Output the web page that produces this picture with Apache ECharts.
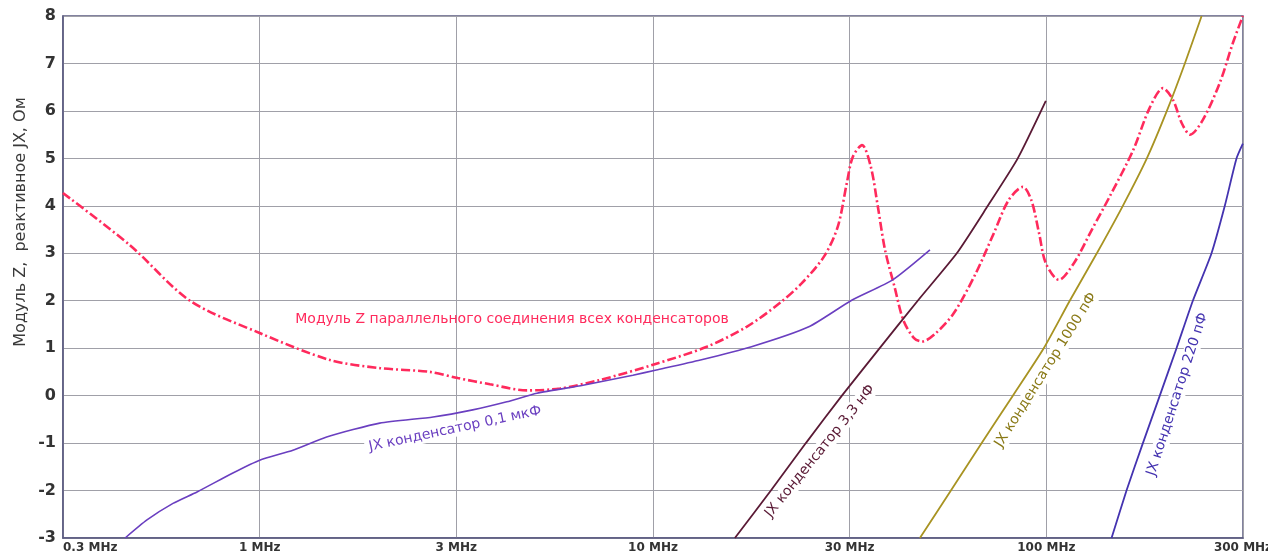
<!DOCTYPE html>
<html>
<head>
<meta charset="utf-8">
<script src="https://cdn.jsdelivr.net/npm/echarts@6/dist/echarts.min.js"></script>
<style>
  html, body { margin: 0; padding: 0; background: #fff; }
  #chart { width: 1268px; height: 558px; }
</style>
</head>
<body>
<div id="chart"></div>
<script>
// tick labels on the half-decade log axis
const xTickLabels = ['0.3 MHz', '1 MHz', '3 MHz', '10 MHz', '30 MHz', '100 MHz', '300 MHz']

// [frequency MHz, ohm]
const zParallel = [
  [0.316, 4.27], [0.468, 3.17], [0.665, 2.0], [1.0, 1.32], [1.51, 0.75], [2.02, 0.58],
  [2.71, 0.50], [3.19, 0.37], [3.85, 0.24], [4.78, 0.11], [5.8, 0.15], [7.33, 0.33],
  [10.0, 0.65], [13.7, 1.03], [17.3, 1.45], [21.0, 1.95], [23.9, 2.37], [27.2, 2.93],
  [29.5, 3.56], [31.1, 4.48], [32.2, 5.03], [34.0, 5.28], [35.8, 4.82], [37.3, 3.98],
  [38.9, 3.07], [41.1, 2.30], [43.3, 1.59], [46.1, 1.21], [48.3, 1.14], [52.4, 1.32],
  [58.2, 1.74], [66.2, 2.58], [73.6, 3.43], [80.2, 4.12], [87.2, 4.40], [91.6, 4.12],
  [95.8, 3.43], [99.7, 2.79], [107.6, 2.44], [117.5, 2.79], [130.6, 3.5], [145, 4.2],
  [166, 5.16], [183, 6.06], [198, 6.48], [210, 6.23], [221, 5.74], [232, 5.50],
  [250, 5.81], [276, 6.59], [298, 7.43], [316, 8.0]
]
const jx100n = [
  [0.455, -3.0], [0.517, -2.62], [0.602, -2.27], [0.693, -2.03], [0.855, -1.63], [1.0, -1.36],
  [1.215, -1.15], [1.48, -0.87], [2.02, -0.58], [2.76, -0.45], [3.48, -0.30], [4.25, -0.13],
  [5.07, 0.05], [6.64, 0.22], [8.89, 0.43], [10.2, 0.54], [13.2, 0.75], [17.8, 1.03],
  [24.9, 1.45], [32.0, 2.01], [40.7, 2.44], [50.6, 3.07]
]
const jx3n3 = [
  [16.15, -3.0], [19.94, -2.0], [24.47, -1.0], [30.22, 0.0], [37.7, 1.0], [47.1, 2.0],
  [59.2, 3.0], [71.0, 4.0], [84.6, 5.0], [99.7, 6.21]
]
const jx1000p = [
  [47.7, -3.0], [57.2, -2.0], [68.5, -1.0], [82.2, 0.0], [98.5, 1.0], [114.7, 2.0],
  [134.4, 3.0], [156.5, 4.0], [180.1, 5.0], [202.5, 6.0], [225, 7.0], [248.2, 8.0]
]
const jx220p = [
  [146.5, -3.0], [159.9, -2.0], [176, -1.0], [194.3, 0.0], [214.3, 1.0], [235.8, 2.0],
  [263, 3.0], [284.3, 4.0], [304.5, 5.0], [316, 5.31]
]

const toLog = (arr) => arr.map(p => [Math.log10(p[0]), p[1]])

const fontFam = '"DejaVu Sans", Verdana, sans-serif'
const chart = echarts.init(document.getElementById('chart'))

const lineSeries = (name, data, color, width, type, smooth) => ({
  name: name,
  type: 'line',
  data: toLog(data),
  showSymbol: false,
  smooth: smooth,
  clip: true,
  lineStyle: { color: color, width: width, type: type },
  z: 3
})

chart.setOption({
  animation: false,
  grid: {
    left: 63, right: 25, top: 16, bottom: 20,
    outerBoundsMode: 'none',
    show: true, borderColor: '#5a5a80', borderWidth: 1.5
  },
  xAxis: {
    type: 'value',
    min: -0.5,
    max: 2.5,
    interval: 0.5,
    axisLine: { show: true, onZero: false, lineStyle: { color: '#5a5a80', width: 1.5 } },
    axisTick: { show: false },
    splitLine: { lineStyle: { color: '#a0a0a8', width: 1 } },
    axisLabel: {
      color: '#333',
      fontFamily: fontFam,
      fontSize: 12,
      fontWeight: 'bold',
      margin: 4,
      alignMinLabel: 'left',
      formatter: (v) => xTickLabels[Math.round((v + 0.5) * 2)]
    }
  },
  yAxis: {
    type: 'value',
    min: -3,
    max: 8,
    interval: 1,
    axisLine: { show: true, onZero: false, lineStyle: { color: '#5a5a80', width: 1.5 } },
    axisTick: { show: false },
    splitLine: { lineStyle: { color: '#a0a0a8', width: 1 } },
    axisLabel: { color: '#333', fontFamily: fontFam, fontSize: 16, fontWeight: 'bold', margin: 7 }
  },
  series: [
    lineSeries('Z', zParallel, '#ff2a5c', 2.6, [9, 3, 2, 3], 0.3),
    lineSeries('0,1 мкФ', jx100n, '#6a3fc0', 1.6, 'solid', 0.2),
    lineSeries('3,3 нФ', jx3n3, '#5a1a35', 1.8, 'solid', 0.2),
    lineSeries('1000 пФ', jx1000p, '#a89322', 1.8, 'solid', 0.2),
    lineSeries('220 пФ', jx220p, '#4433b0', 1.8, 'solid', 0.2)
  ]
})

// curve labels, anchored to data coordinates
const labels = [
  { text: 'Модуль Z параллельного соединения всех конденсаторов', f: 4.38, v: 1.61, rot: 0, color: '#ff2a5c', bg: 'transparent' },
  { text: 'JX конденсатор 0,1 мкФ', f: 3.14, v: -0.70, rot: 12, color: '#6a3fc0', bg: '#fff' },
  { text: 'JX конденсатор 3,3 нФ', f: 26.6, v: -1.17, rot: 51, color: '#5a1a35', bg: '#fff' },
  { text: 'JX конденсатор 1000 пФ', f: 99.7, v: 0.54, rot: 58, color: '#8a7a18', bg: '#fff' },
  { text: 'JX конденсатор 220 пФ', f: 215.4, v: 0.03, rot: 72, color: '#4433b0', bg: '#fff' }
]
const graphics = labels.map(l => {
  const p = chart.convertToPixel({ gridIndex: 0 }, [Math.log10(l.f), l.v])
  return {
    type: 'text',
    x: p[0],
    y: p[1],
    rotation: l.rot * Math.PI / 180,
    z: 10,
    style: {
      text: l.text,
      fill: l.color,
      font: '14px ' + fontFam,
      align: 'center',
      verticalAlign: 'middle',
      backgroundColor: l.bg,
      padding: [1, 4]
    }
  }
})
// y axis title
graphics.push({
  type: 'text',
  x: 21,
  y: 222,
  rotation: Math.PI / 2,
  style: {
    text: 'Модуль Z,  реактивное JX, Ом',
    fill: '#3a3a3a',
    font: '16px ' + fontFam,
    align: 'center',
    verticalAlign: 'middle'
  }
})
chart.setOption({ graphic: graphics })
</script>
</body>
</html>
